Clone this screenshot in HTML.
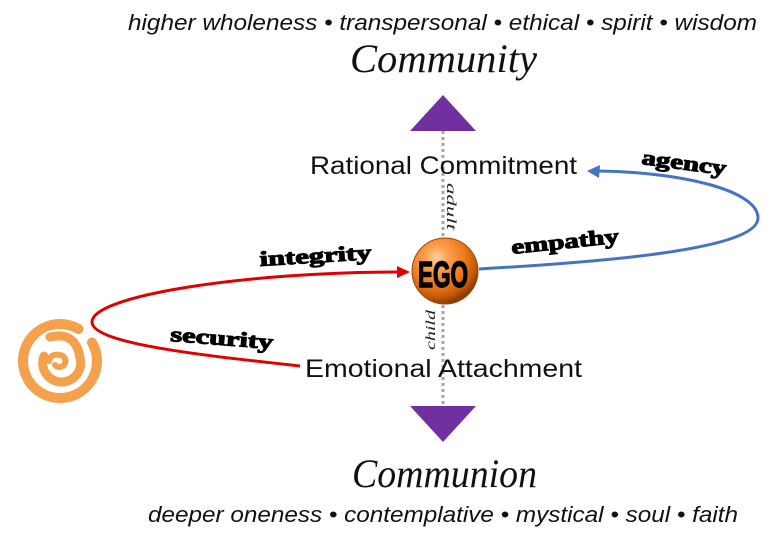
<!DOCTYPE html>
<html><head><meta charset="utf-8"><style>
html,body{margin:0;padding:0;background:#fff;}
svg{display:block;}
</style></head><body>
<svg width="776" height="545" viewBox="0 0 776 545" xmlns="http://www.w3.org/2000/svg">
<defs>
<radialGradient id="ego" cx="38%" cy="30%" r="70%">
<stop offset="0%" stop-color="#FFD2A0"/>
<stop offset="25%" stop-color="#FBA050"/>
<stop offset="60%" stop-color="#EE7A1A"/>
<stop offset="85%" stop-color="#C45A06"/>
<stop offset="100%" stop-color="#8A3C00"/>
</radialGradient>
</defs>
<rect width="776" height="545" fill="#fff"/>

<!-- top text -->
<text x="128" y="30" font-family="Liberation Sans, sans-serif" font-style="italic" font-size="22" fill="#111" textLength="629" lengthAdjust="spacingAndGlyphs">higher wholeness • transpersonal • ethical • spirit • wisdom</text>
<text x="350" y="72" font-family="Liberation Serif, serif" font-style="italic" font-size="40" fill="#111" textLength="187" lengthAdjust="spacingAndGlyphs">Community</text>

<!-- dotted axis -->
<line x1="443" y1="131" x2="443" y2="406" stroke="#A6A6A6" stroke-width="3" stroke-dasharray="3 3"/>

<!-- triangles -->
<polygon points="443,95 410,131 476,131" fill="#7030A0"/>
<polygon points="410,406 476,406 443,442" fill="#7030A0"/>

<!-- main labels -->
<text x="310" y="174" font-family="Liberation Sans, sans-serif" font-size="25" fill="#111" textLength="267" lengthAdjust="spacingAndGlyphs">Rational Commitment</text>
<text x="305" y="377" font-family="Liberation Sans, sans-serif" font-size="25" fill="#111" textLength="277" lengthAdjust="spacingAndGlyphs">Emotional Attachment</text>

<!-- adult / child -->
<text transform="translate(447,183) rotate(90)" font-family="Liberation Serif, serif" font-style="italic" font-size="14" fill="#222" textLength="47" lengthAdjust="spacingAndGlyphs">adult</text>
<text transform="translate(435,350) rotate(-90)" font-family="Liberation Serif, serif" font-style="italic" font-size="14" fill="#222" textLength="40" lengthAdjust="spacingAndGlyphs">child</text>

<!-- red curve -->
<path d="M300 366 C 220 357, 92 345, 92 322 C 92 295, 250 272, 398 272" fill="none" stroke="#E00000" stroke-width="3"/>
<polygon points="410,272 397,266 397,278" fill="#E00000"/>

<!-- blue curve -->
<path d="M479 269 C 600 262, 758 250, 758 218 C 758 190, 680 172, 598 171" fill="none" stroke="#4472C4" stroke-width="3"/>
<polygon points="587,171 600,165 599,178" fill="#4472C4"/>

<!-- EGO sphere -->
<circle cx="445" cy="271" r="33" fill="url(#ego)" stroke="#9A4A08" stroke-width="1"/>
<text x="418" y="287" font-family="Liberation Sans, sans-serif" font-weight="bold" font-size="36" fill="#000" stroke="#000" stroke-width="1.5" textLength="50" lengthAdjust="spacingAndGlyphs">EGO</text>

<!-- bold labels -->
<g font-family="Liberation Serif, serif" font-weight="bold" fill="#000" stroke="#000" stroke-width="1">
<text transform="translate(260,266) rotate(-3.5)" font-size="21" textLength="112" lengthAdjust="spacingAndGlyphs">integrity</text>
<text transform="translate(170,341) rotate(4.5)" font-size="21" textLength="103" lengthAdjust="spacingAndGlyphs">security</text>
<text transform="translate(512,254) rotate(-6)" font-size="21" textLength="108" lengthAdjust="spacingAndGlyphs">empathy</text>
<text transform="translate(641,164) rotate(7.5)" font-size="21" textLength="85" lengthAdjust="spacingAndGlyphs">agency</text>
</g>

<!-- spiral -->
<g fill="none" stroke="#F5A04C" stroke-linecap="round" stroke-linejoin="round">
<path d="M78.5 329 A 37 37 0 1 0 92 342.5" stroke-width="10"/>
<path d="M50 337 Q 76 331 80 358 A 19 19 0 1 1 44 356" stroke-width="9"/>
<path d="M49 361 Q 51 353 60 355 A 6 6 0 1 1 55 365" stroke-width="6"/>
</g>

<!-- bottom -->
<text x="352" y="487" font-family="Liberation Serif, serif" font-style="italic" font-size="40" fill="#111" textLength="185" lengthAdjust="spacingAndGlyphs">Communion</text>
<text x="148" y="522" font-family="Liberation Sans, sans-serif" font-style="italic" font-size="22" fill="#111" textLength="590" lengthAdjust="spacingAndGlyphs">deeper oneness • contemplative • mystical • soul • faith</text>
</svg>
</body></html>
